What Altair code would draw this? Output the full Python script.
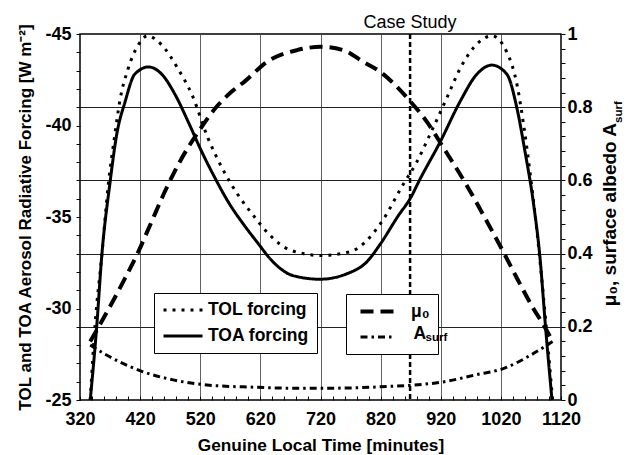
import altair as alt
import pandas as pd

FONT = "Liberation Sans"

# ---------------- data ----------------
tol_t = [337, 345, 356, 367, 378, 386, 400, 417, 432, 456, 483, 506, 533, 556, 583, 608, 636, 669, 720, 769,
         819, 857, 880, 902, 930, 952, 985, 1005, 1030, 1047, 1058, 1069, 1080, 1091, 1106]
tol_v = [-25.0, -29.1, -32.8, -36.75, -39.5, -41.3, -43.1, -44.4, -44.9, -44.4, -43.1, -41.7, -39.3, -37.7, -36.2,
         -35.1, -34.0, -33.2, -32.9, -33.1, -34.6, -36.75, -38.0, -39.5, -41.5, -43.1, -44.6, -44.9, -44.0, -42.2,
         -40.0, -37.3, -34.2, -30.6, -25.0]

toa_t = [337, 348, 356, 370, 381, 395, 411, 434, 456, 478, 500, 522, 545, 567, 592, 614, 641, 674, 719, 764,
         797, 819, 850, 869, 886, 919, 952, 980, 1005, 1030, 1047, 1060, 1074, 1085, 1094, 1105]
toa_v = [-25.0, -29.1, -32.8, -36.9, -39.5, -41.3, -42.8, -43.2, -42.8, -41.7, -40.2, -38.6, -37.1, -35.8, -34.6,
         -33.65, -32.55, -31.8, -31.6, -31.9, -32.55, -33.5, -35.1, -36.0, -37.1, -39.1, -41.3, -42.8, -43.3, -42.8,
         -40.9, -38.6, -35.8, -32.8, -29.1, -25.0]

mu0_t = [337, 362, 395, 417, 439, 461, 489, 517, 545, 572, 595, 631, 681, 720, 758, 791, 819, 844, 866, 897,
         925, 963, 997, 1024, 1047, 1074, 1091, 1106]
mu0_v = [0.16, 0.232, 0.333, 0.405, 0.487, 0.569, 0.66, 0.733, 0.797, 0.842, 0.872, 0.924, 0.956, 0.965, 0.956,
         0.924, 0.897, 0.861, 0.822, 0.76, 0.688, 0.587, 0.487, 0.405, 0.332, 0.25, 0.205, 0.16]

asurf_t = [337, 364, 425, 475, 531, 608, 686, 720, 820, 926, 976, 1026, 1070, 1106]
asurf_v = [0.15, 0.123, 0.077, 0.055, 0.041, 0.035, 0.032, 0.032, 0.036, 0.05, 0.068, 0.087, 0.123, 0.16]

case_study_t = [869]
case_study_label = ["Case Study"]

forcing_series = ["TOL forcing", "TOA forcing"]
right_series = ["mu0", "asurf"]

x_ticks = list(range(320, 1121, 20))
left_ticks = list(range(-45, -24))
right_ticks = [round(i * 0.04, 2) for i in range(26)]

left_title = "TOL and TOA Aerosol Radiative Forcing [W m\u207b\u00b2]"
right_title_main = ["\u03bc\u2080, surface albedo A"]
right_title_sub = ["surf"]
legend_a = ["A"]
legend_sub = ["surf"]

# ---------------- tables ----------------
df_f = pd.DataFrame({
    "t": tol_t + toa_t,
    "v": tol_v + toa_v,
    "series": [forcing_series[0]] * len(tol_t) + [forcing_series[1]] * len(toa_t),
})
df_r = pd.DataFrame({
    "t": mu0_t + asurf_t,
    "r": mu0_v + asurf_v,
    "series": [right_series[0]] * len(mu0_t) + [right_series[1]] * len(asurf_t),
})
df_case = pd.DataFrame({"t": case_study_t, "label": case_study_label})

# ---------------- axes ----------------
x_major = "(datum.value - 320) % 100 === 0"
x_axis = alt.Axis(
    orient="bottom", values=x_ticks,
    labelExpr=f"{x_major} ? toString(datum.value) : ''",
    labelOverlap=False, labelFlush=False,
    grid=True, gridColor="#3a3a3a", gridWidth=0.8,
    gridOpacity={"condition": {"test": f"{x_major} && datum.value > 320 && datum.value < 1120", "value": 1}, "value": 0},
    tickSize=4, tickWidth=1, domain=False, offset=-4, labelPadding=10,
    title="Genuine Local Time [minutes]", titlePadding=8, titleFontSize=17.3,
)
left_axis = alt.Axis(
    orient="left", values=left_ticks,
    labelExpr="datum.value % 5 === 0 ? toString(datum.value) : ''",
    labelOverlap=False, labelFlush=False, grid=False,
    tickSize=4, tickWidth=1, domain=False, labelPadding=5,
    title=left_title, titlePadding=10, titleFontSize=17,
)
r_major = "abs(datum.value * 5 - round(datum.value * 5)) < 0.001"
right_axis = alt.Axis(
    orient="right", values=right_ticks,
    labelExpr=f"{r_major} ? toString(round(datum.value * 5) / 5) : ''",
    labelOverlap=False, labelFlush=False,
    grid=True, gridColor="#222222", gridWidth=1,
    gridOpacity={"condition": {"test": f"{r_major} && datum.value > 0.01 && datum.value < 0.99", "value": 1}, "value": 0},
    tickSize=4, tickWidth=1, domain=False, labelPadding=2, title=None,
)

legend_common = dict(
    title=None, orient="none", direction="vertical",
    fillColor="white", strokeColor="black", cornerRadius=0,
    symbolStrokeColor="black", symbolSize=225,
    labelFont=FONT, labelFontSize=17.5, labelFontWeight="bold", labelColor="black",
    rowPadding=8, zindex=1, padding=8,
)
legend1 = alt.Legend(legendX=74, legendY=259, symbolType="M-1,0L4.2,0", symbolStrokeWidth=3,
                     labelOffset=28, **legend_common)
legend2 = alt.Legend(legendX=266, legendY=260, symbolType="M-0.4,0L4,0", symbolStrokeWidth=3.5,
                     labelOffset=38,
                     labelExpr="datum.value === 'mu0' ? '\u03bc\u2080\u00a0\u00a0\u00a0\u00a0\u00a0' : ''",
                     **legend_common)

x_enc = alt.X("t:Q", scale=alt.Scale(domain=[320, 1120], nice=False, zero=False), axis=x_axis)

forcing = alt.Chart(df_f).mark_line(color="black", interpolate="monotone", strokeWidth=3).encode(
    x=x_enc,
    y=alt.Y("v:Q", scale=alt.Scale(domain=[-45, -25], reverse=True, nice=False, zero=False), axis=left_axis),
    strokeDash=alt.StrokeDash("series:N", scale=alt.Scale(domain=forcing_series, range=[[3, 6], [1, 0]]),
                              legend=legend1),
)

right = alt.Chart(df_r).mark_line(color="black", interpolate="monotone").encode(
    x=x_enc,
    y=alt.Y("r:Q", scale=alt.Scale(domain=[0, 1], nice=False, zero=True), axis=right_axis),
    strokeDash=alt.StrokeDash("series:N", scale=alt.Scale(domain=right_series, range=[[13, 7], [7, 4, 2.5, 4]]),
                              legend=legend2),
    strokeWidth=alt.StrokeWidth("series:N", scale=alt.Scale(domain=right_series, range=[4, 3]), legend=None),
)

rule = alt.Chart(df_case).mark_rule(color="black", strokeDash=[5, 3], strokeWidth=2.5).encode(x=x_enc)
case_label = alt.Chart(df_case).mark_text(font=FONT, fontSize=18, align="center", baseline="alphabetic",
                                           color="black").encode(
    x=x_enc, y=alt.value(-6), text="label:N",
)

rtitle = alt.Chart(pd.DataFrame({"txt": right_title_main})).mark_text(
    font=FONT, fontSize=19, fontWeight="bold", angle=270, align="right", baseline="middle", color="black"
).encode(x=alt.value(530), y=alt.value(89), text="txt:N")
rsub = alt.Chart(pd.DataFrame({"txt": right_title_sub})).mark_text(
    font=FONT, fontSize=11.5, fontWeight="bold", angle=270, align="left", baseline="middle", color="black"
).encode(x=alt.value(539), y=alt.value(89), text="txt:N")

overlay_common = dict(title=None, orient="none", padding=0, symbolOpacity=0, symbolSize=1,
                      symbolStrokeWidth=0, labelOffset=0, labelFont=FONT, labelFontWeight="bold",
                      labelColor="black", zindex=2)
a_layer = alt.Chart(pd.DataFrame({"lab": legend_a})).mark_point(size=0, opacity=0).encode(
    shape=alt.Shape("lab:N", legend=alt.Legend(legendX=316, legendY=291, labelFontSize=17.5, **overlay_common)),
)
sub_layer = alt.Chart(pd.DataFrame({"sub": legend_sub})).mark_point(size=0, opacity=0).encode(
    shape=alt.Shape("sub:N", legend=alt.Legend(legendX=334, legendY=298, labelFontSize=11.5, **overlay_common)),
)

chart = alt.layer(forcing, right, rule, case_label, rtitle, rsub, a_layer, sub_layer).resolve_scale(
    y="independent", strokeDash="independent", strokeWidth="independent", shape="independent"
).properties(
    width=481, height=366,
    autosize=alt.AutoSizeParams(type="none"),
    padding={"left": 80, "top": 34, "right": 73, "bottom": 55},
    background="white",
).configure_view(
    stroke="black", strokeWidth=1.5
).configure_axis(
    labelFont=FONT, labelFontSize=18, labelFontWeight="bold", labelColor="black",
    titleFont=FONT, titleFontWeight="bold", titleColor="black",
    tickColor="black",
)

chart.save("out.html", embed_options={"renderer": "svg", "actions": False})
